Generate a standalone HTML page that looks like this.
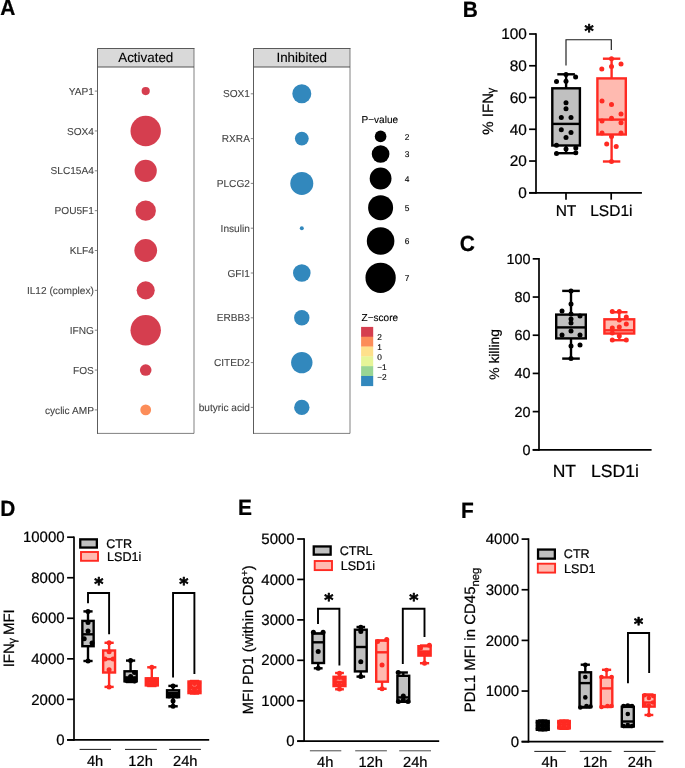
<!DOCTYPE html>
<html lang="en">
<head>
<meta charset="utf-8">
<title>Figure</title>
<style>
html,body{margin:0;padding:0;background:#fff;}
body{width:685px;height:768px;overflow:hidden;}
svg{display:block;font-family:"Liberation Sans", Arial, Helvetica, sans-serif;text-rendering:geometricPrecision;}
text{fill:#000;stroke:#000;stroke-width:0.22px;}
text.al{fill:#444;stroke:#444;stroke-width:0.1px;}
text.lg{stroke-width:0.12px;}
text.st{font-family:"DejaVu Sans","Liberation Sans",sans-serif;font-weight:bold;font-size:17.5px;text-anchor:middle;stroke-width:0.7px;stroke-linejoin:round;}
</style>
</head>
<body>
<svg width="685" height="768" viewBox="0 0 685 768">
<rect width="685" height="768" fill="#fff"/>
<text transform="translate(0.3 14.9) scale(0.95 1)" font-size="22.0" font-weight="bold">A</text>
<text transform="translate(462.7 16.8) scale(0.95 1)" font-size="22.0" font-weight="bold">B</text>
<text transform="translate(459.8 250.6) scale(0.95 1)" font-size="22.0" font-weight="bold">C</text>
<text transform="translate(0.3 516.3) scale(0.95 1)" font-size="22.0" font-weight="bold">D</text>
<text transform="translate(237.9 514.6) scale(0.95 1)" font-size="22.0" font-weight="bold">E</text>
<text transform="translate(461.1 518.0) scale(0.95 1)" font-size="22.0" font-weight="bold">F</text>
<rect x="97.5" y="48.5" width="96.5" height="18.5" fill="#d9d9d9"/>
<path d="M97.5 67.0H194.0" fill="none" stroke="#555" stroke-width="1.1"/>
<path d="M97.5 433.4V48.5H194.0" fill="none" stroke="#4a4a4a" stroke-width="0.9" stroke-linecap="square"/>
<path d="M194.0 48.5V433.4H97.5" fill="none" stroke="#4a4a4a" stroke-width="0.7"/>
<text x="145.75" y="62.1" font-size="13.4" text-anchor="middle" class="lg">Activated</text>
<line x1="94.8" y1="91.1" x2="97.1" y2="91.1" stroke="#777" stroke-width="0.9" stroke-linecap="butt"/>
<text x="93.9" y="94.7" font-size="10.15" text-anchor="end" class="al">YAP1</text>
<circle cx="145.7" cy="91.1" r="4.1" fill="#d53e4f"/>
<line x1="94.8" y1="130.95" x2="97.1" y2="130.95" stroke="#777" stroke-width="0.9" stroke-linecap="butt"/>
<text x="93.9" y="134.55" font-size="10.15" text-anchor="end" class="al">SOX4</text>
<circle cx="145.7" cy="130.95" r="15.2" fill="#d53e4f"/>
<line x1="94.8" y1="170.8" x2="97.1" y2="170.8" stroke="#777" stroke-width="0.9" stroke-linecap="butt"/>
<text x="93.9" y="174.4" font-size="10.15" text-anchor="end" class="al">SLC15A4</text>
<circle cx="145.7" cy="170.8" r="11.1" fill="#d53e4f"/>
<line x1="94.8" y1="210.65" x2="97.1" y2="210.65" stroke="#777" stroke-width="0.9" stroke-linecap="butt"/>
<text x="93.9" y="214.25" font-size="10.15" text-anchor="end" class="al">POU5F1</text>
<circle cx="145.7" cy="210.65" r="10.2" fill="#d53e4f"/>
<line x1="94.8" y1="250.5" x2="97.1" y2="250.5" stroke="#777" stroke-width="0.9" stroke-linecap="butt"/>
<text x="93.9" y="254.1" font-size="10.15" text-anchor="end" class="al">KLF4</text>
<circle cx="145.7" cy="250.5" r="11.4" fill="#d53e4f"/>
<line x1="94.8" y1="290.35" x2="97.1" y2="290.35" stroke="#777" stroke-width="0.9" stroke-linecap="butt"/>
<text x="93.9" y="293.95" font-size="10.15" text-anchor="end" class="al">IL12 (complex)</text>
<circle cx="145.7" cy="290.35" r="9.05" fill="#d53e4f"/>
<line x1="94.8" y1="330.2" x2="97.1" y2="330.2" stroke="#777" stroke-width="0.9" stroke-linecap="butt"/>
<text x="93.9" y="333.8" font-size="10.15" text-anchor="end" class="al">IFNG</text>
<circle cx="145.7" cy="330.2" r="15.2" fill="#d53e4f"/>
<line x1="94.8" y1="370.05" x2="97.1" y2="370.05" stroke="#777" stroke-width="0.9" stroke-linecap="butt"/>
<text x="93.9" y="373.65" font-size="10.15" text-anchor="end" class="al">FOS</text>
<circle cx="145.7" cy="370.05" r="5.8" fill="#d53e4f"/>
<line x1="94.8" y1="409.9" x2="97.1" y2="409.9" stroke="#777" stroke-width="0.9" stroke-linecap="butt"/>
<text x="93.9" y="413.5" font-size="10.15" text-anchor="end" class="al">cyclic AMP</text>
<circle cx="145.7" cy="409.9" r="5.4" fill="#fc8d59"/>
<rect x="253.5" y="48.5" width="96.5" height="18.5" fill="#d9d9d9"/>
<path d="M253.5 67.0H350.0" fill="none" stroke="#555" stroke-width="1.1"/>
<path d="M253.5 433.4V48.5H350.0" fill="none" stroke="#4a4a4a" stroke-width="0.9" stroke-linecap="square"/>
<path d="M350.0 48.5V433.4H253.5" fill="none" stroke="#4a4a4a" stroke-width="0.7"/>
<text x="301.75" y="62.1" font-size="13.4" text-anchor="middle" class="lg">Inhibited</text>
<line x1="250.8" y1="93.8" x2="253.1" y2="93.8" stroke="#777" stroke-width="0.9" stroke-linecap="butt"/>
<text x="249.9" y="97.4" font-size="10.15" text-anchor="end" class="al">SOX1</text>
<circle cx="301.8" cy="93.8" r="9.5" fill="#3288bd"/>
<line x1="250.8" y1="138.6" x2="253.1" y2="138.6" stroke="#777" stroke-width="0.9" stroke-linecap="butt"/>
<text x="249.9" y="142.2" font-size="10.15" text-anchor="end" class="al">RXRA</text>
<circle cx="301.8" cy="138.6" r="6.9" fill="#3288bd"/>
<line x1="250.8" y1="183.4" x2="253.1" y2="183.4" stroke="#777" stroke-width="0.9" stroke-linecap="butt"/>
<text x="249.9" y="187" font-size="10.15" text-anchor="end" class="al">PLCG2</text>
<circle cx="301.8" cy="183.4" r="11.5" fill="#3288bd"/>
<line x1="250.8" y1="228.2" x2="253.1" y2="228.2" stroke="#777" stroke-width="0.9" stroke-linecap="butt"/>
<text x="249.9" y="231.8" font-size="10.15" text-anchor="end" class="al">Insulin</text>
<circle cx="301.8" cy="228.2" r="2.0" fill="#3288bd"/>
<line x1="250.8" y1="273.0" x2="253.1" y2="273.0" stroke="#777" stroke-width="0.9" stroke-linecap="butt"/>
<text x="249.9" y="276.6" font-size="10.15" text-anchor="end" class="al">GFI1</text>
<circle cx="301.8" cy="273.0" r="8.8" fill="#3288bd"/>
<line x1="250.8" y1="317.8" x2="253.1" y2="317.8" stroke="#777" stroke-width="0.9" stroke-linecap="butt"/>
<text x="249.9" y="321.4" font-size="10.15" text-anchor="end" class="al">ERBB3</text>
<circle cx="301.8" cy="317.8" r="7.7" fill="#3288bd"/>
<line x1="250.8" y1="362.6" x2="253.1" y2="362.6" stroke="#777" stroke-width="0.9" stroke-linecap="butt"/>
<text x="249.9" y="366.2" font-size="10.15" text-anchor="end" class="al">CITED2</text>
<circle cx="301.8" cy="362.6" r="10.7" fill="#3288bd"/>
<line x1="250.8" y1="407.4" x2="253.1" y2="407.4" stroke="#777" stroke-width="0.9" stroke-linecap="butt"/>
<text x="249.9" y="411.0" font-size="10.15" text-anchor="end" class="al">butyric acid</text>
<circle cx="301.8" cy="407.4" r="7.7" fill="#3288bd"/>
<text x="361.5" y="123.4" font-size="10.05" class="lg">P−value</text>
<circle cx="380.6" cy="136.4" r="5.8" fill="#000"/>
<text x="404.8" y="139.6" font-size="8.4" class="lg">2</text>
<circle cx="380.6" cy="154.0" r="8.85" fill="#000"/>
<text x="404.8" y="157.2" font-size="8.4" class="lg">3</text>
<circle cx="380.6" cy="178.5" r="10.9" fill="#000"/>
<text x="404.8" y="181.7" font-size="8.4" class="lg">4</text>
<circle cx="380.6" cy="207.7" r="12.5" fill="#000"/>
<text x="404.8" y="210.9" font-size="8.4" class="lg">5</text>
<circle cx="380.6" cy="241.0" r="13.8" fill="#000"/>
<text x="404.8" y="244.2" font-size="8.4" class="lg">6</text>
<circle cx="380.6" cy="277.8" r="15.15" fill="#000"/>
<text x="404.8" y="281.0" font-size="8.4" class="lg">7</text>
<text x="361.5" y="321.2" font-size="10.05" class="lg">Z−score</text>
<rect x="361.1" y="326.90" width="12.1" height="10.12" fill="#d53e4f"/>
<rect x="361.1" y="336.72" width="12.1" height="10.12" fill="#fc8d59"/>
<rect x="361.1" y="346.53" width="12.1" height="10.12" fill="#fee08b"/>
<rect x="361.1" y="356.35" width="12.1" height="10.12" fill="#e6f598"/>
<rect x="361.1" y="366.17" width="12.1" height="10.12" fill="#99d594"/>
<rect x="361.1" y="375.98" width="12.1" height="10.12" fill="#3288bd"/>
<text x="377.2" y="340.1" font-size="8.3" class="lg">2</text>
<text x="377.2" y="349.95" font-size="8.3" class="lg">1</text>
<text x="377.2" y="359.8" font-size="8.3" class="lg">0</text>
<text x="377.2" y="369.65" font-size="8.3" class="lg">−1</text>
<text x="377.2" y="379.5" font-size="8.3" class="lg">−2</text>
<line x1="536.0" y1="33.15" x2="536.0" y2="193.65" stroke="#000" stroke-width="1.7" stroke-linecap="butt"/>
<line x1="529.1" y1="34.0" x2="536.0" y2="34.0" stroke="#000" stroke-width="1.7" stroke-linecap="butt"/>
<text x="526.9" y="39.31" font-size="15.4" text-anchor="end">100</text>
<line x1="529.1" y1="65.76" x2="536.0" y2="65.76" stroke="#000" stroke-width="1.7" stroke-linecap="butt"/>
<text x="526.9" y="71.07" font-size="15.4" text-anchor="end">80</text>
<line x1="529.1" y1="97.52" x2="536.0" y2="97.52" stroke="#000" stroke-width="1.7" stroke-linecap="butt"/>
<text x="526.9" y="102.83" font-size="15.4" text-anchor="end">60</text>
<line x1="529.1" y1="129.28" x2="536.0" y2="129.28" stroke="#000" stroke-width="1.7" stroke-linecap="butt"/>
<text x="526.9" y="134.59" font-size="15.4" text-anchor="end">40</text>
<line x1="529.1" y1="161.04" x2="536.0" y2="161.04" stroke="#000" stroke-width="1.7" stroke-linecap="butt"/>
<text x="526.9" y="166.35" font-size="15.4" text-anchor="end">20</text>
<line x1="529.1" y1="192.8" x2="536.0" y2="192.8" stroke="#000" stroke-width="1.7" stroke-linecap="butt"/>
<text x="526.9" y="198.11" font-size="15.4" text-anchor="end">0</text>
<line x1="529.1" y1="192.8" x2="641.9" y2="192.8" stroke="#000" stroke-width="1.7" stroke-linecap="butt"/>
<line x1="566.0" y1="192.8" x2="566.0" y2="199.7" stroke="#000" stroke-width="1.7" stroke-linecap="butt"/>
<line x1="611.2" y1="192.8" x2="611.2" y2="199.7" stroke="#000" stroke-width="1.7" stroke-linecap="butt"/>
<text x="566.0" y="216.2" font-size="15.5" text-anchor="middle">NT</text>
<text x="611.35" y="216.2" font-size="15.5" text-anchor="middle">LSD1i</text>
<text transform="translate(493.3 111.2) rotate(-90)" font-size="15.0" text-anchor="middle">% IFN<tspan font-size="11.5" dy="1.8" dx="-0.5">γ</tspan></text>
<line x1="566.1" y1="74.3" x2="566.1" y2="88.3" stroke="#000" stroke-width="2.4" stroke-linecap="butt"/>
<line x1="566.1" y1="145.5" x2="566.1" y2="153.2" stroke="#000" stroke-width="2.4" stroke-linecap="butt"/>
<line x1="557.3" y1="74.3" x2="574.9" y2="74.3" stroke="#000" stroke-width="2.4" stroke-linecap="butt"/>
<line x1="557.3" y1="153.2" x2="574.9" y2="153.2" stroke="#000" stroke-width="2.4" stroke-linecap="butt"/>
<rect x="552.3" y="88.3" width="27.6" height="57.2" fill="#c0c0c0" stroke="#000" stroke-width="2.4"/>
<line x1="552.3" y1="123.9" x2="579.9" y2="123.9" stroke="#000" stroke-width="2.4" stroke-linecap="butt"/>
<circle cx="556.5" cy="81.5" r="2.5" fill="#000"/>
<circle cx="566" cy="74.4" r="2.5" fill="#000"/>
<circle cx="575.6" cy="77" r="2.5" fill="#000"/>
<circle cx="566" cy="81.3" r="2.5" fill="#000"/>
<circle cx="566" cy="102.8" r="2.5" fill="#000"/>
<circle cx="566" cy="108.7" r="2.5" fill="#000"/>
<circle cx="561.3" cy="117.4" r="2.5" fill="#000"/>
<circle cx="571" cy="117.4" r="2.5" fill="#000"/>
<circle cx="561.3" cy="129.7" r="2.5" fill="#000"/>
<circle cx="571" cy="132.6" r="2.5" fill="#000"/>
<circle cx="566" cy="137.6" r="2.5" fill="#000"/>
<circle cx="556.5" cy="145.2" r="2.5" fill="#000"/>
<circle cx="566" cy="149.1" r="2.5" fill="#000"/>
<circle cx="575.8" cy="148.1" r="2.5" fill="#000"/>
<circle cx="556.5" cy="153.5" r="2.5" fill="#000"/>
<circle cx="575.8" cy="152.8" r="2.5" fill="#000"/>
<line x1="611.6" y1="58.7" x2="611.6" y2="78.4" stroke="#ff2a22" stroke-width="2.4" stroke-linecap="butt"/>
<line x1="611.6" y1="134.5" x2="611.6" y2="161.5" stroke="#ff2a22" stroke-width="2.4" stroke-linecap="butt"/>
<line x1="602.9" y1="58.7" x2="620.3" y2="58.7" stroke="#ff2a22" stroke-width="2.4" stroke-linecap="butt"/>
<line x1="602.9" y1="161.5" x2="620.3" y2="161.5" stroke="#ff2a22" stroke-width="2.4" stroke-linecap="butt"/>
<rect x="597.4" y="78.4" width="28.4" height="56.1" fill="#ffbab0" stroke="#ff2a22" stroke-width="2.4"/>
<line x1="597.4" y1="119.6" x2="625.8" y2="119.6" stroke="#ff2a22" stroke-width="2.4" stroke-linecap="butt"/>
<circle cx="611.5" cy="58.7" r="2.5" fill="#ff2a22"/>
<circle cx="601.8" cy="69" r="2.5" fill="#ff2a22"/>
<circle cx="611.5" cy="66.4" r="2.5" fill="#ff2a22"/>
<circle cx="621" cy="64.1" r="2.5" fill="#ff2a22"/>
<circle cx="602" cy="101.1" r="2.5" fill="#ff2a22"/>
<circle cx="611.5" cy="104.6" r="2.5" fill="#ff2a22"/>
<circle cx="621" cy="114.1" r="2.5" fill="#ff2a22"/>
<circle cx="611.5" cy="118.2" r="2.5" fill="#ff2a22"/>
<circle cx="602" cy="121" r="2.5" fill="#ff2a22"/>
<circle cx="621" cy="122.8" r="2.5" fill="#ff2a22"/>
<circle cx="602" cy="133.1" r="2.5" fill="#ff2a22"/>
<circle cx="621" cy="133.1" r="2.5" fill="#ff2a22"/>
<circle cx="611.5" cy="136.4" r="2.5" fill="#ff2a22"/>
<circle cx="606.7" cy="144" r="2.5" fill="#ff2a22"/>
<circle cx="616.2" cy="146.6" r="2.5" fill="#ff2a22"/>
<circle cx="611.5" cy="161.5" r="2.5" fill="#ff2a22"/>
<path d="M566 65.5 V39.7 H611.3 V49.9" fill="none" stroke="#1a1a1a" stroke-width="1.15"/>
<text x="589.0" y="37.3" class="st">*</text>
<line x1="539.0" y1="258.0" x2="539.0" y2="450.65" stroke="#000" stroke-width="1.7" stroke-linecap="butt"/>
<line x1="532.7" y1="258.85" x2="539.0" y2="258.85" stroke="#000" stroke-width="1.7" stroke-linecap="butt"/>
<text x="530.6" y="263.82" font-size="14.4" text-anchor="end">100</text>
<line x1="532.7" y1="297.04" x2="539.0" y2="297.04" stroke="#000" stroke-width="1.7" stroke-linecap="butt"/>
<text x="530.6" y="302.01" font-size="14.4" text-anchor="end">80</text>
<line x1="532.7" y1="335.23" x2="539.0" y2="335.23" stroke="#000" stroke-width="1.7" stroke-linecap="butt"/>
<text x="530.6" y="340.2" font-size="14.4" text-anchor="end">60</text>
<line x1="532.7" y1="373.42" x2="539.0" y2="373.42" stroke="#000" stroke-width="1.7" stroke-linecap="butt"/>
<text x="530.6" y="378.39" font-size="14.4" text-anchor="end">40</text>
<line x1="532.7" y1="411.61" x2="539.0" y2="411.61" stroke="#000" stroke-width="1.7" stroke-linecap="butt"/>
<text x="530.6" y="416.58" font-size="14.4" text-anchor="end">20</text>
<line x1="532.7" y1="449.8" x2="539.0" y2="449.8" stroke="#000" stroke-width="1.7" stroke-linecap="butt"/>
<text x="530.6" y="454.77" font-size="14.4" text-anchor="end">0</text>
<line x1="532.7" y1="449.8" x2="651.6" y2="449.8" stroke="#000" stroke-width="1.7" stroke-linecap="butt"/>
<text x="564.3" y="477.3" font-size="17.5" text-anchor="middle">NT</text>
<text x="615.05" y="477.3" font-size="17.6" text-anchor="middle">LSD1i</text>
<text transform="translate(499.1 354.4) rotate(-90)" font-size="13.8" text-anchor="middle">% killing</text>
<line x1="571.0" y1="290.9" x2="571.0" y2="314.6" stroke="#000" stroke-width="2.4" stroke-linecap="butt"/>
<line x1="571.0" y1="338.4" x2="571.0" y2="358.6" stroke="#000" stroke-width="2.4" stroke-linecap="butt"/>
<line x1="562.2" y1="290.9" x2="579.8" y2="290.9" stroke="#000" stroke-width="2.4" stroke-linecap="butt"/>
<line x1="562.2" y1="358.6" x2="579.8" y2="358.6" stroke="#000" stroke-width="2.4" stroke-linecap="butt"/>
<rect x="556.2" y="314.6" width="29.6" height="23.8" fill="#c0c0c0" stroke="#000" stroke-width="2.4"/>
<line x1="556.2" y1="327.4" x2="585.8" y2="327.4" stroke="#000" stroke-width="2.4" stroke-linecap="butt"/>
<circle cx="571.0" cy="290.9" r="2.5" fill="#000"/>
<circle cx="571.0" cy="304" r="2.5" fill="#000"/>
<circle cx="562.0" cy="311" r="2.5" fill="#000"/>
<circle cx="571.0" cy="314" r="2.5" fill="#000"/>
<circle cx="580.0" cy="316" r="2.5" fill="#000"/>
<circle cx="571.0" cy="319" r="2.5" fill="#000"/>
<circle cx="571.0" cy="323" r="2.5" fill="#000"/>
<circle cx="571.0" cy="331" r="2.5" fill="#000"/>
<circle cx="562.0" cy="335" r="2.5" fill="#000"/>
<circle cx="580.0" cy="335" r="2.5" fill="#000"/>
<circle cx="571.0" cy="346" r="2.5" fill="#000"/>
<circle cx="580.0" cy="345" r="2.5" fill="#000"/>
<circle cx="571.0" cy="358.6" r="2.5" fill="#000"/>
<line x1="619.3" y1="312.2" x2="619.3" y2="319.3" stroke="#ff2a22" stroke-width="2.4" stroke-linecap="butt"/>
<line x1="619.3" y1="333.5" x2="619.3" y2="340.2" stroke="#ff2a22" stroke-width="2.4" stroke-linecap="butt"/>
<line x1="611.1" y1="312.2" x2="627.5" y2="312.2" stroke="#ff2a22" stroke-width="2.4" stroke-linecap="butt"/>
<line x1="611.1" y1="340.2" x2="627.5" y2="340.2" stroke="#ff2a22" stroke-width="2.4" stroke-linecap="butt"/>
<rect x="604.4" y="319.3" width="29.8" height="14.2" fill="#ffbab0" stroke="#ff2a22" stroke-width="2.4"/>
<line x1="604.4" y1="330.3" x2="634.2" y2="330.3" stroke="#ff2a22" stroke-width="2.4" stroke-linecap="butt"/>
<circle cx="612.3" cy="311.6" r="2.5" fill="#ff2a22"/>
<circle cx="619.3" cy="311.6" r="2.5" fill="#ff2a22"/>
<circle cx="626.3" cy="317" r="2.5" fill="#ff2a22"/>
<circle cx="619.3" cy="320" r="2.5" fill="#ff2a22"/>
<circle cx="626.3" cy="324" r="2.5" fill="#ff2a22"/>
<circle cx="612.3" cy="328" r="2.5" fill="#ff2a22"/>
<circle cx="619.3" cy="327" r="2.5" fill="#ff2a22"/>
<circle cx="612.3" cy="333" r="2.5" fill="#ff2a22"/>
<circle cx="619.3" cy="336" r="2.5" fill="#ff2a22"/>
<circle cx="612.3" cy="340" r="2.5" fill="#ff2a22"/>
<circle cx="626.3" cy="340" r="2.5" fill="#ff2a22"/>
<g>
<line x1="74.0" y1="536.4" x2="74.0" y2="740.75" stroke="#000" stroke-width="1.7" stroke-linecap="butt"/>
<line x1="67.1" y1="537.2" x2="74.0" y2="537.2" stroke="#000" stroke-width="1.7" stroke-linecap="butt"/>
<text x="64.6" y="542.38" font-size="15.0" text-anchor="end">10000</text>
<line x1="67.1" y1="577.74" x2="74.0" y2="577.74" stroke="#000" stroke-width="1.7" stroke-linecap="butt"/>
<text x="64.6" y="582.91" font-size="15.0" text-anchor="end">8000</text>
<line x1="67.1" y1="618.28" x2="74.0" y2="618.28" stroke="#000" stroke-width="1.7" stroke-linecap="butt"/>
<text x="64.6" y="623.46" font-size="15.0" text-anchor="end">6000</text>
<line x1="67.1" y1="658.82" x2="74.0" y2="658.82" stroke="#000" stroke-width="1.7" stroke-linecap="butt"/>
<text x="64.6" y="664" font-size="15.0" text-anchor="end">4000</text>
<line x1="67.1" y1="699.36" x2="74.0" y2="699.36" stroke="#000" stroke-width="1.7" stroke-linecap="butt"/>
<text x="64.6" y="704.53" font-size="15.0" text-anchor="end">2000</text>
<line x1="67.1" y1="739.9" x2="74.0" y2="739.9" stroke="#000" stroke-width="1.7" stroke-linecap="butt"/>
<text x="64.6" y="745.07" font-size="15.0" text-anchor="end">0</text>
<line x1="67.1" y1="739.9" x2="209.2" y2="739.9" stroke="#000" stroke-width="1.7" stroke-linecap="butt"/>
<line x1="79.6" y1="749.4" x2="111" y2="749.4" stroke="#1a1a1a" stroke-width="1.0" stroke-linecap="butt"/>
<text x="95.1" y="765.6" font-size="14.7" text-anchor="middle">4h</text>
<line x1="125" y1="749.4" x2="156.9" y2="749.4" stroke="#1a1a1a" stroke-width="1.0" stroke-linecap="butt"/>
<text x="140.6" y="765.6" font-size="14.7" text-anchor="middle">12h</text>
<line x1="169.2" y1="749.4" x2="200.9" y2="749.4" stroke="#1a1a1a" stroke-width="1.0" stroke-linecap="butt"/>
<text x="185.3" y="765.6" font-size="14.7" text-anchor="middle">24h</text>
<rect x="80.25" y="539.35" width="16.6" height="8.2" fill="#c0c0c0" stroke="#000" stroke-width="2.3"/>
<rect x="81.0" y="552.0" width="17.0" height="8.8" fill="#ffbab0" stroke="#ff2a22" stroke-width="1.9"/>
<text x="106.2" y="548.1" font-size="12.6">CTR</text>
<text x="107.0" y="561.0" font-size="12.6">LSD1i</text>
<text transform="translate(13.8 638.3) rotate(-90)" font-size="15.0" text-anchor="middle">IFN<tspan font-size="11.5" dy="1.8" dx="-0.5">γ</tspan><tspan dy="-1.8" dx="-1.3"> MFI</tspan></text>
<line x1="88.0" y1="611.4" x2="88.0" y2="620.9" stroke="#000" stroke-width="2.4" stroke-linecap="butt"/>
<line x1="88.0" y1="646.2" x2="88.0" y2="661.0" stroke="#000" stroke-width="2.4" stroke-linecap="butt"/>
<line x1="83.4" y1="611.4" x2="92.6" y2="611.4" stroke="#000" stroke-width="2.4" stroke-linecap="butt"/>
<line x1="83.4" y1="661.0" x2="92.6" y2="661.0" stroke="#000" stroke-width="2.4" stroke-linecap="butt"/>
<rect x="82.35" y="620.9" width="11.3" height="25.3" fill="#c0c0c0" stroke="#000" stroke-width="2.4"/>
<line x1="82.35" y1="634.3" x2="93.65" y2="634.3" stroke="#000" stroke-width="2.4" stroke-linecap="butt"/>
<circle cx="88" cy="611.4" r="2.5" fill="#000"/>
<circle cx="88" cy="622.6" r="2.5" fill="#000"/>
<circle cx="88" cy="631.1" r="2.5" fill="#000"/>
<circle cx="84.2" cy="638.7" r="2.5" fill="#000"/>
<circle cx="92" cy="643" r="2.5" fill="#000"/>
<circle cx="88" cy="661" r="2.5" fill="#000"/>
<line x1="109.1" y1="642.8" x2="109.1" y2="650.5" stroke="#ff2a22" stroke-width="2.4" stroke-linecap="butt"/>
<line x1="109.1" y1="672.5" x2="109.1" y2="686.9" stroke="#ff2a22" stroke-width="2.4" stroke-linecap="butt"/>
<line x1="104.5" y1="642.8" x2="113.7" y2="642.8" stroke="#ff2a22" stroke-width="2.4" stroke-linecap="butt"/>
<line x1="104.5" y1="686.9" x2="113.7" y2="686.9" stroke="#ff2a22" stroke-width="2.4" stroke-linecap="butt"/>
<rect x="103.15" y="650.5" width="11.9" height="22.0" fill="#ffbab0" stroke="#ff2a22" stroke-width="2.4"/>
<line x1="103.15" y1="659.1" x2="115.05" y2="659.1" stroke="#ff2a22" stroke-width="2.4" stroke-linecap="butt"/>
<circle cx="109.1" cy="642.8" r="2.5" fill="#ff2a22"/>
<circle cx="109.1" cy="651.8" r="2.5" fill="#ff2a22"/>
<circle cx="105" cy="659" r="2.5" fill="#ff2a22"/>
<circle cx="113.2" cy="659" r="2.5" fill="#ff2a22"/>
<circle cx="109.1" cy="669.8" r="2.5" fill="#ff2a22"/>
<circle cx="109.1" cy="686.9" r="2.5" fill="#ff2a22"/>
<line x1="130.6" y1="660.6" x2="130.6" y2="671.3" stroke="#000" stroke-width="2.4" stroke-linecap="butt"/>
<line x1="130.6" y1="681.3" x2="130.6" y2="682.0" stroke="#000" stroke-width="2.4" stroke-linecap="butt"/>
<line x1="126.0" y1="660.6" x2="135.2" y2="660.6" stroke="#000" stroke-width="2.4" stroke-linecap="butt"/>
<line x1="126.0" y1="682.0" x2="135.2" y2="682.0" stroke="#000" stroke-width="2.4" stroke-linecap="butt"/>
<rect x="124.5" y="671.3" width="12.2" height="10.0" fill="#c0c0c0" stroke="#000" stroke-width="2.4"/>
<line x1="124.5" y1="677.5" x2="136.7" y2="677.5" stroke="#000" stroke-width="2.4" stroke-linecap="butt"/>
<circle cx="130.6" cy="660.6" r="2.5" fill="#000"/>
<circle cx="126.5" cy="679" r="2.5" fill="#000"/>
<circle cx="134.7" cy="679" r="2.5" fill="#000"/>
<circle cx="130.6" cy="680" r="2.5" fill="#000"/>
<circle cx="126.5" cy="680.5" r="2.5" fill="#000"/>
<circle cx="134.7" cy="681" r="2.5" fill="#000"/>
<circle cx="130.6" cy="676.5" r="2.5" fill="#000"/>
<circle cx="134.5" cy="672.5" r="2.5" fill="#000"/>
<line x1="151.8" y1="667.3" x2="151.8" y2="678.3" stroke="#ff2a22" stroke-width="2.4" stroke-linecap="butt"/>
<line x1="151.8" y1="685.4" x2="151.8" y2="686.0" stroke="#ff2a22" stroke-width="2.4" stroke-linecap="butt"/>
<line x1="147.2" y1="667.3" x2="156.4" y2="667.3" stroke="#ff2a22" stroke-width="2.4" stroke-linecap="butt"/>
<line x1="147.2" y1="686.0" x2="156.4" y2="686.0" stroke="#ff2a22" stroke-width="2.4" stroke-linecap="butt"/>
<rect x="145.8" y="678.3" width="12.0" height="7.1" fill="#ffbab0" stroke="#ff2a22" stroke-width="2.4"/>
<line x1="145.8" y1="681.5" x2="157.8" y2="681.5" stroke="#ff2a22" stroke-width="2.4" stroke-linecap="butt"/>
<circle cx="151.8" cy="667.3" r="2.5" fill="#ff2a22"/>
<circle cx="147.7" cy="680" r="2.5" fill="#ff2a22"/>
<circle cx="155.9" cy="680" r="2.5" fill="#ff2a22"/>
<circle cx="151.8" cy="683.5" r="2.5" fill="#ff2a22"/>
<circle cx="147.7" cy="684" r="2.5" fill="#ff2a22"/>
<circle cx="155.9" cy="684" r="2.5" fill="#ff2a22"/>
<circle cx="151.8" cy="679.5" r="2.5" fill="#ff2a22"/>
<line x1="173.05" y1="685.9" x2="173.05" y2="690.3" stroke="#000" stroke-width="2.4" stroke-linecap="butt"/>
<line x1="173.05" y1="697.2" x2="173.05" y2="706.3" stroke="#000" stroke-width="2.4" stroke-linecap="butt"/>
<line x1="168.35" y1="685.9" x2="177.75" y2="685.9" stroke="#000" stroke-width="2.4" stroke-linecap="butt"/>
<line x1="168.35" y1="706.3" x2="177.75" y2="706.3" stroke="#000" stroke-width="2.4" stroke-linecap="butt"/>
<rect x="167.05" y="690.3" width="12.0" height="6.9" fill="#c0c0c0" stroke="#000" stroke-width="2.4"/>
<line x1="167.05" y1="693.0" x2="179.05" y2="693.0" stroke="#000" stroke-width="2.4" stroke-linecap="butt"/>
<circle cx="173.05" cy="685.9" r="2.5" fill="#000"/>
<circle cx="169" cy="694.5" r="2.5" fill="#000"/>
<circle cx="177.1" cy="694.5" r="2.5" fill="#000"/>
<circle cx="173.05" cy="696" r="2.5" fill="#000"/>
<circle cx="169" cy="696" r="2.5" fill="#000"/>
<circle cx="177.1" cy="696" r="2.5" fill="#000"/>
<circle cx="173.05" cy="701" r="2.5" fill="#000"/>
<circle cx="173.05" cy="706.3" r="2.5" fill="#000"/>
<line x1="194.5" y1="681.0" x2="194.5" y2="681.5" stroke="#ff2a22" stroke-width="2.4" stroke-linecap="butt"/>
<line x1="194.5" y1="693.1" x2="194.5" y2="693.5" stroke="#ff2a22" stroke-width="2.4" stroke-linecap="butt"/>
<line x1="189.9" y1="681.0" x2="199.1" y2="681.0" stroke="#ff2a22" stroke-width="2.4" stroke-linecap="butt"/>
<line x1="189.9" y1="693.5" x2="199.1" y2="693.5" stroke="#ff2a22" stroke-width="2.4" stroke-linecap="butt"/>
<rect x="188.5" y="681.5" width="12.0" height="11.6" fill="#ffbab0" stroke="#ff2a22" stroke-width="2.4"/>
<line x1="188.5" y1="687.5" x2="200.5" y2="687.5" stroke="#ff2a22" stroke-width="2.4" stroke-linecap="butt"/>
<circle cx="190.3" cy="683" r="2.5" fill="#ff2a22"/>
<circle cx="198.7" cy="683" r="2.5" fill="#ff2a22"/>
<circle cx="194.5" cy="683.5" r="2.5" fill="#ff2a22"/>
<circle cx="190.3" cy="691.5" r="2.5" fill="#ff2a22"/>
<circle cx="198.7" cy="691.5" r="2.5" fill="#ff2a22"/>
<circle cx="194.5" cy="692" r="2.5" fill="#ff2a22"/>
<circle cx="190.5" cy="687" r="2.5" fill="#ff2a22"/>
<circle cx="198.5" cy="687" r="2.5" fill="#ff2a22"/>
<circle cx="194.5" cy="689.5" r="2.5" fill="#ff2a22"/>
<path d="M88.0 603.2 V592.95 H109.1 V634.3" fill="none" stroke="#000" stroke-width="1.9"/>
<text x="98.8" y="590.2" class="st">*</text>
<path d="M173.05 677.6 V592.95 H194.4 V673.9" fill="none" stroke="#000" stroke-width="1.9"/>
<text x="183.9" y="590.2" class="st">*</text>
</g>
<g>
<line x1="304.1" y1="538.2" x2="304.1" y2="742.05" stroke="#000" stroke-width="1.7" stroke-linecap="butt"/>
<line x1="297.2" y1="539.0" x2="304.1" y2="539.0" stroke="#000" stroke-width="1.7" stroke-linecap="butt"/>
<text x="294.7" y="544.17" font-size="15.0" text-anchor="end">5000</text>
<line x1="297.2" y1="579.44" x2="304.1" y2="579.44" stroke="#000" stroke-width="1.7" stroke-linecap="butt"/>
<text x="294.7" y="584.62" font-size="15.0" text-anchor="end">4000</text>
<line x1="297.2" y1="619.88" x2="304.1" y2="619.88" stroke="#000" stroke-width="1.7" stroke-linecap="butt"/>
<text x="294.7" y="625.05" font-size="15.0" text-anchor="end">3000</text>
<line x1="297.2" y1="660.32" x2="304.1" y2="660.32" stroke="#000" stroke-width="1.7" stroke-linecap="butt"/>
<text x="294.7" y="665.49" font-size="15.0" text-anchor="end">2000</text>
<line x1="297.2" y1="700.76" x2="304.1" y2="700.76" stroke="#000" stroke-width="1.7" stroke-linecap="butt"/>
<text x="294.7" y="705.93" font-size="15.0" text-anchor="end">1000</text>
<line x1="297.2" y1="741.2" x2="304.1" y2="741.2" stroke="#000" stroke-width="1.7" stroke-linecap="butt"/>
<text x="294.7" y="746.38" font-size="15.0" text-anchor="end">0</text>
<line x1="297.2" y1="741.2" x2="439.2" y2="741.2" stroke="#000" stroke-width="1.7" stroke-linecap="butt"/>
<line x1="309.9" y1="750.8" x2="341.3" y2="750.8" stroke="#4a4a4a" stroke-width="1.0" stroke-linecap="butt"/>
<text x="325.2" y="766.5" font-size="14.7" text-anchor="middle">4h</text>
<line x1="355.2" y1="750.8" x2="386.9" y2="750.8" stroke="#4a4a4a" stroke-width="1.0" stroke-linecap="butt"/>
<text x="370.7" y="766.5" font-size="14.7" text-anchor="middle">12h</text>
<line x1="399.2" y1="750.8" x2="431" y2="750.8" stroke="#4a4a4a" stroke-width="1.0" stroke-linecap="butt"/>
<text x="415.3" y="766.5" font-size="14.7" text-anchor="middle">24h</text>
<rect x="313.75" y="546.45" width="16.9" height="8.2" fill="#c0c0c0" stroke="#000" stroke-width="2.3"/>
<rect x="314.7" y="561.0" width="17.3" height="9.1" fill="#ffbab0" stroke="#ff2a22" stroke-width="1.9"/>
<text x="339.7" y="554.6" font-size="12.6">CTRL</text>
<text x="340.7" y="570.0" font-size="12.6">LSD1i</text>
<text transform="translate(253.2 639.8) rotate(-90)" font-size="14.7" text-anchor="middle">MFI PD1 (within CD8<tspan font-size="10.5" dy="-5.5">+</tspan><tspan dy="5.5">)</tspan></text>
<line x1="318.2" y1="633.6" x2="318.2" y2="633.6" stroke="#000" stroke-width="2.4" stroke-linecap="butt"/>
<line x1="318.2" y1="663.0" x2="318.2" y2="668.3" stroke="#000" stroke-width="2.4" stroke-linecap="butt"/>
<line x1="313.8" y1="633.6" x2="322.6" y2="633.6" stroke="#000" stroke-width="2.4" stroke-linecap="butt"/>
<line x1="313.8" y1="668.3" x2="322.6" y2="668.3" stroke="#000" stroke-width="2.4" stroke-linecap="butt"/>
<rect x="312.4" y="633.6" width="11.6" height="29.4" fill="#c0c0c0" stroke="#000" stroke-width="2.4"/>
<line x1="312.4" y1="642.3" x2="324.0" y2="642.3" stroke="#000" stroke-width="2.4" stroke-linecap="butt"/>
<circle cx="313.4" cy="632.3" r="2.5" fill="#000"/>
<circle cx="323.1" cy="632.3" r="2.5" fill="#000"/>
<circle cx="318.2" cy="651.5" r="2.5" fill="#000"/>
<circle cx="318.2" cy="668.3" r="2.5" fill="#000"/>
<line x1="339.5" y1="673.0" x2="339.5" y2="676.8" stroke="#ff2a22" stroke-width="2.4" stroke-linecap="butt"/>
<line x1="339.5" y1="686.1" x2="339.5" y2="689.3" stroke="#ff2a22" stroke-width="2.4" stroke-linecap="butt"/>
<line x1="335.1" y1="673.0" x2="343.9" y2="673.0" stroke="#ff2a22" stroke-width="2.4" stroke-linecap="butt"/>
<line x1="335.1" y1="689.3" x2="343.9" y2="689.3" stroke="#ff2a22" stroke-width="2.4" stroke-linecap="butt"/>
<rect x="333.55" y="676.8" width="11.9" height="9.3" fill="#ffbab0" stroke="#ff2a22" stroke-width="2.4"/>
<line x1="333.55" y1="681.8" x2="345.45" y2="681.8" stroke="#ff2a22" stroke-width="2.4" stroke-linecap="butt"/>
<circle cx="339.5" cy="673.2" r="2.5" fill="#ff2a22"/>
<circle cx="335.4" cy="678.5" r="2.5" fill="#ff2a22"/>
<circle cx="343.6" cy="678.5" r="2.5" fill="#ff2a22"/>
<circle cx="339.5" cy="677.5" r="2.5" fill="#ff2a22"/>
<circle cx="335.4" cy="684.5" r="2.5" fill="#ff2a22"/>
<circle cx="343.6" cy="684.5" r="2.5" fill="#ff2a22"/>
<circle cx="339.5" cy="685" r="2.5" fill="#ff2a22"/>
<circle cx="339.5" cy="689.1" r="2.5" fill="#ff2a22"/>
<line x1="360.8" y1="627.0" x2="360.8" y2="629.7" stroke="#000" stroke-width="2.4" stroke-linecap="butt"/>
<line x1="360.8" y1="671.4" x2="360.8" y2="676.6" stroke="#000" stroke-width="2.4" stroke-linecap="butt"/>
<line x1="356.5" y1="627.0" x2="365.1" y2="627.0" stroke="#000" stroke-width="2.4" stroke-linecap="butt"/>
<line x1="356.5" y1="676.6" x2="365.1" y2="676.6" stroke="#000" stroke-width="2.4" stroke-linecap="butt"/>
<rect x="354.9" y="629.7" width="11.8" height="41.7" fill="#c0c0c0" stroke="#000" stroke-width="2.4"/>
<line x1="354.9" y1="647.0" x2="366.7" y2="647.0" stroke="#000" stroke-width="2.4" stroke-linecap="butt"/>
<circle cx="360.8" cy="627.2" r="2.5" fill="#000"/>
<circle cx="360.8" cy="631.4" r="2.5" fill="#000"/>
<circle cx="360.8" cy="661.8" r="2.5" fill="#000"/>
<circle cx="360.8" cy="676.6" r="2.5" fill="#000"/>
<line x1="382.05" y1="640.6" x2="382.05" y2="640.6" stroke="#ff2a22" stroke-width="2.4" stroke-linecap="butt"/>
<line x1="382.05" y1="681.7" x2="382.05" y2="688.8" stroke="#ff2a22" stroke-width="2.4" stroke-linecap="butt"/>
<line x1="377.45" y1="640.6" x2="386.65" y2="640.6" stroke="#ff2a22" stroke-width="2.4" stroke-linecap="butt"/>
<line x1="377.45" y1="688.8" x2="386.65" y2="688.8" stroke="#ff2a22" stroke-width="2.4" stroke-linecap="butt"/>
<rect x="376.2" y="640.6" width="11.7" height="41.1" fill="#ffbab0" stroke="#ff2a22" stroke-width="2.4"/>
<line x1="376.2" y1="652.3" x2="387.9" y2="652.3" stroke="#ff2a22" stroke-width="2.4" stroke-linecap="butt"/>
<circle cx="377.6" cy="641.4" r="2.5" fill="#ff2a22"/>
<circle cx="386.7" cy="639.6" r="2.5" fill="#ff2a22"/>
<circle cx="382.05" cy="665" r="2.5" fill="#ff2a22"/>
<circle cx="382.05" cy="688.8" r="2.5" fill="#ff2a22"/>
<line x1="403.3" y1="672.5" x2="403.3" y2="675.8" stroke="#000" stroke-width="2.4" stroke-linecap="butt"/>
<line x1="403.3" y1="701.8" x2="403.3" y2="701.8" stroke="#000" stroke-width="2.4" stroke-linecap="butt"/>
<line x1="398.7" y1="672.5" x2="407.9" y2="672.5" stroke="#000" stroke-width="2.4" stroke-linecap="butt"/>
<line x1="398.7" y1="701.8" x2="407.9" y2="701.8" stroke="#000" stroke-width="2.4" stroke-linecap="butt"/>
<rect x="397.4" y="675.8" width="11.8" height="26.0" fill="#c0c0c0" stroke="#000" stroke-width="2.4"/>
<line x1="397.4" y1="697.4" x2="409.2" y2="697.4" stroke="#000" stroke-width="2.4" stroke-linecap="butt"/>
<circle cx="398.2" cy="672.6" r="2.5" fill="#000"/>
<circle cx="398.4" cy="701.6" r="2.5" fill="#000"/>
<circle cx="408.0" cy="701.6" r="2.5" fill="#000"/>
<circle cx="403.3" cy="700" r="2.5" fill="#000"/>
<circle cx="403.3" cy="696" r="2.5" fill="#000"/>
<line x1="424.55" y1="645.5" x2="424.55" y2="646.2" stroke="#ff2a22" stroke-width="2.4" stroke-linecap="butt"/>
<line x1="424.55" y1="655.6" x2="424.55" y2="663.2" stroke="#ff2a22" stroke-width="2.4" stroke-linecap="butt"/>
<line x1="419.95" y1="645.5" x2="429.15" y2="645.5" stroke="#ff2a22" stroke-width="2.4" stroke-linecap="butt"/>
<line x1="419.95" y1="663.2" x2="429.15" y2="663.2" stroke="#ff2a22" stroke-width="2.4" stroke-linecap="butt"/>
<rect x="418.45" y="646.2" width="12.2" height="9.4" fill="#ffbab0" stroke="#ff2a22" stroke-width="2.4"/>
<line x1="418.45" y1="651.5" x2="430.65" y2="651.5" stroke="#ff2a22" stroke-width="2.4" stroke-linecap="butt"/>
<circle cx="429.4" cy="645.2" r="2.5" fill="#ff2a22"/>
<circle cx="420.5" cy="648" r="2.5" fill="#ff2a22"/>
<circle cx="424.55" cy="654" r="2.5" fill="#ff2a22"/>
<circle cx="428.6" cy="653.5" r="2.5" fill="#ff2a22"/>
<circle cx="420.5" cy="653.5" r="2.5" fill="#ff2a22"/>
<circle cx="424.55" cy="663.2" r="2.5" fill="#ff2a22"/>
<path d="M318.0 624.1 V608.7 H339.4 V665.4" fill="none" stroke="#000" stroke-width="1.9"/>
<text x="328.8" y="606.0" class="st">*</text>
<path d="M402.8 664.1 V608.7 H424.5 V637.0" fill="none" stroke="#000" stroke-width="1.9"/>
<text x="413.9" y="606.0" class="st">*</text>
</g>
<g>
<line x1="528.5" y1="538.3" x2="528.5" y2="742.55" stroke="#000" stroke-width="1.7" stroke-linecap="butt"/>
<line x1="521.6" y1="539.1" x2="528.5" y2="539.1" stroke="#000" stroke-width="1.7" stroke-linecap="butt"/>
<text x="519.1" y="544.27" font-size="15.0" text-anchor="end">4000</text>
<line x1="521.6" y1="589.75" x2="528.5" y2="589.75" stroke="#000" stroke-width="1.7" stroke-linecap="butt"/>
<text x="519.1" y="594.92" font-size="15.0" text-anchor="end">3000</text>
<line x1="521.6" y1="640.4" x2="528.5" y2="640.4" stroke="#000" stroke-width="1.7" stroke-linecap="butt"/>
<text x="519.1" y="645.57" font-size="15.0" text-anchor="end">2000</text>
<line x1="521.6" y1="691.05" x2="528.5" y2="691.05" stroke="#000" stroke-width="1.7" stroke-linecap="butt"/>
<text x="519.1" y="696.22" font-size="15.0" text-anchor="end">1000</text>
<line x1="521.6" y1="741.7" x2="528.5" y2="741.7" stroke="#000" stroke-width="1.7" stroke-linecap="butt"/>
<text x="519.1" y="746.88" font-size="15.0" text-anchor="end">0</text>
<line x1="521.6" y1="741.7" x2="663.4" y2="741.7" stroke="#000" stroke-width="1.7" stroke-linecap="butt"/>
<line x1="534.3" y1="751.4" x2="565.8" y2="751.4" stroke="#1a1a1a" stroke-width="1.0" stroke-linecap="butt"/>
<text x="549.7" y="767.1" font-size="14.7" text-anchor="middle">4h</text>
<line x1="579.7" y1="751.4" x2="611.5" y2="751.4" stroke="#1a1a1a" stroke-width="1.0" stroke-linecap="butt"/>
<text x="595.2" y="767.1" font-size="14.7" text-anchor="middle">12h</text>
<line x1="623.8" y1="751.4" x2="655.5" y2="751.4" stroke="#1a1a1a" stroke-width="1.0" stroke-linecap="butt"/>
<text x="639.9" y="767.1" font-size="14.7" text-anchor="middle">24h</text>
<rect x="538.05" y="549.55" width="16.8" height="9.1" fill="#c0c0c0" stroke="#000" stroke-width="2.3"/>
<rect x="537.8" y="563.7" width="17.3" height="8.9" fill="#ffbab0" stroke="#ff2a22" stroke-width="1.9"/>
<text x="563.8" y="558.4" font-size="12.6">CTR</text>
<text x="564.0" y="572.6" font-size="12.6">LSD1</text>
<text transform="translate(475.0 640.0) rotate(-90)" font-size="15.0" text-anchor="middle">PDL1 MFI in CD45<tspan font-size="11.3" dy="3.8">neg</tspan></text>
<line x1="542.75" y1="720.5" x2="542.75" y2="721.0" stroke="#000" stroke-width="2.4" stroke-linecap="butt"/>
<line x1="542.75" y1="729.8" x2="542.75" y2="730.3" stroke="#000" stroke-width="2.4" stroke-linecap="butt"/>
<line x1="538.15" y1="720.5" x2="547.35" y2="720.5" stroke="#000" stroke-width="2.4" stroke-linecap="butt"/>
<line x1="538.15" y1="730.3" x2="547.35" y2="730.3" stroke="#000" stroke-width="2.4" stroke-linecap="butt"/>
<rect x="536.85" y="721.0" width="11.8" height="8.8" fill="#c0c0c0" stroke="#000" stroke-width="2.4"/>
<line x1="536.85" y1="725.4" x2="548.65" y2="725.4" stroke="#000" stroke-width="2.4" stroke-linecap="butt"/>
<circle cx="538.3" cy="722.5" r="2.6" fill="#000"/>
<circle cx="547.2" cy="722.5" r="2.6" fill="#000"/>
<circle cx="542.75" cy="722" r="2.6" fill="#000"/>
<circle cx="538.3" cy="728.5" r="2.6" fill="#000"/>
<circle cx="547.2" cy="728.5" r="2.6" fill="#000"/>
<circle cx="542.75" cy="728.8" r="2.6" fill="#000"/>
<circle cx="538.5" cy="725.5" r="2.6" fill="#000"/>
<circle cx="547" cy="725.5" r="2.6" fill="#000"/>
<circle cx="542.75" cy="725.5" r="2.6" fill="#000"/>
<line x1="564.05" y1="720.5" x2="564.05" y2="721.0" stroke="#ff2a22" stroke-width="2.4" stroke-linecap="butt"/>
<line x1="564.05" y1="728.3" x2="564.05" y2="728.8" stroke="#ff2a22" stroke-width="2.4" stroke-linecap="butt"/>
<line x1="559.45" y1="720.5" x2="568.65" y2="720.5" stroke="#ff2a22" stroke-width="2.4" stroke-linecap="butt"/>
<line x1="559.45" y1="728.8" x2="568.65" y2="728.8" stroke="#ff2a22" stroke-width="2.4" stroke-linecap="butt"/>
<rect x="558.35" y="721.0" width="11.4" height="7.3" fill="#ffbab0" stroke="#ff2a22" stroke-width="2.4"/>
<line x1="558.35" y1="724.6" x2="569.75" y2="724.6" stroke="#ff2a22" stroke-width="2.4" stroke-linecap="butt"/>
<circle cx="559.6" cy="722.3" r="2.5" fill="#ff2a22"/>
<circle cx="568.5" cy="722.3" r="2.5" fill="#ff2a22"/>
<circle cx="564.05" cy="722" r="2.5" fill="#ff2a22"/>
<circle cx="559.6" cy="727.2" r="2.5" fill="#ff2a22"/>
<circle cx="568.5" cy="727.2" r="2.5" fill="#ff2a22"/>
<circle cx="564.05" cy="727.2" r="2.5" fill="#ff2a22"/>
<circle cx="564.05" cy="724.6" r="2.5" fill="#ff2a22"/>
<line x1="585.3" y1="664.7" x2="585.3" y2="672.3" stroke="#000" stroke-width="2.4" stroke-linecap="butt"/>
<line x1="585.3" y1="707.0" x2="585.3" y2="707.5" stroke="#000" stroke-width="2.4" stroke-linecap="butt"/>
<line x1="580.7" y1="664.7" x2="589.9" y2="664.7" stroke="#000" stroke-width="2.4" stroke-linecap="butt"/>
<line x1="580.7" y1="707.5" x2="589.9" y2="707.5" stroke="#000" stroke-width="2.4" stroke-linecap="butt"/>
<rect x="579.55" y="672.3" width="11.5" height="34.7" fill="#c0c0c0" stroke="#000" stroke-width="2.4"/>
<line x1="579.55" y1="683.1" x2="591.05" y2="683.1" stroke="#000" stroke-width="2.4" stroke-linecap="butt"/>
<circle cx="585.3" cy="664.9" r="2.3" fill="#000"/>
<circle cx="585.3" cy="677" r="2.3" fill="#000"/>
<circle cx="585.3" cy="697.4" r="2.3" fill="#000"/>
<circle cx="580.3" cy="707.5" r="2.3" fill="#000"/>
<circle cx="586.5" cy="706" r="2.3" fill="#000"/>
<circle cx="590.5" cy="706.5" r="2.3" fill="#000"/>
<line x1="606.55" y1="669.8" x2="606.55" y2="677.4" stroke="#ff2a22" stroke-width="2.4" stroke-linecap="butt"/>
<line x1="606.55" y1="706.6" x2="606.55" y2="707.0" stroke="#ff2a22" stroke-width="2.4" stroke-linecap="butt"/>
<line x1="601.95" y1="669.8" x2="611.15" y2="669.8" stroke="#ff2a22" stroke-width="2.4" stroke-linecap="butt"/>
<line x1="601.95" y1="707.0" x2="611.15" y2="707.0" stroke="#ff2a22" stroke-width="2.4" stroke-linecap="butt"/>
<rect x="600.8" y="677.4" width="11.5" height="29.2" fill="#ffbab0" stroke="#ff2a22" stroke-width="2.4"/>
<line x1="600.8" y1="688.4" x2="612.3" y2="688.4" stroke="#ff2a22" stroke-width="2.4" stroke-linecap="butt"/>
<circle cx="606.55" cy="670" r="2.3" fill="#ff2a22"/>
<circle cx="601.5" cy="677" r="2.3" fill="#ff2a22"/>
<circle cx="611.6" cy="677" r="2.3" fill="#ff2a22"/>
<circle cx="601.5" cy="707" r="2.3" fill="#ff2a22"/>
<circle cx="607.5" cy="706" r="2.3" fill="#ff2a22"/>
<circle cx="611.5" cy="706" r="2.3" fill="#ff2a22"/>
<line x1="627.8" y1="705.5" x2="627.8" y2="706.8" stroke="#000" stroke-width="2.4" stroke-linecap="butt"/>
<line x1="627.8" y1="726.5" x2="627.8" y2="727.0" stroke="#000" stroke-width="2.4" stroke-linecap="butt"/>
<line x1="623.2" y1="705.5" x2="632.4" y2="705.5" stroke="#000" stroke-width="2.4" stroke-linecap="butt"/>
<line x1="623.2" y1="727.0" x2="632.4" y2="727.0" stroke="#000" stroke-width="2.4" stroke-linecap="butt"/>
<rect x="621.8" y="706.8" width="12.0" height="19.7" fill="#c0c0c0" stroke="#000" stroke-width="2.4"/>
<line x1="621.8" y1="721.5" x2="633.8" y2="721.5" stroke="#000" stroke-width="2.4" stroke-linecap="butt"/>
<circle cx="623.5" cy="706" r="2.3" fill="#000"/>
<circle cx="632" cy="706" r="2.3" fill="#000"/>
<circle cx="627.8" cy="705.6" r="2.3" fill="#000"/>
<circle cx="627.8" cy="714" r="2.3" fill="#000"/>
<circle cx="623.5" cy="726" r="2.3" fill="#000"/>
<circle cx="632" cy="726" r="2.3" fill="#000"/>
<circle cx="627.8" cy="725" r="2.3" fill="#000"/>
<line x1="648.9" y1="694.5" x2="648.9" y2="695.1" stroke="#ff2a22" stroke-width="2.4" stroke-linecap="butt"/>
<line x1="648.9" y1="706.6" x2="648.9" y2="715.0" stroke="#ff2a22" stroke-width="2.4" stroke-linecap="butt"/>
<line x1="644.5" y1="694.5" x2="653.3" y2="694.5" stroke="#ff2a22" stroke-width="2.4" stroke-linecap="butt"/>
<line x1="644.5" y1="715.0" x2="653.3" y2="715.0" stroke="#ff2a22" stroke-width="2.4" stroke-linecap="butt"/>
<rect x="643.15" y="695.1" width="11.5" height="11.5" fill="#ffbab0" stroke="#ff2a22" stroke-width="2.4"/>
<line x1="643.15" y1="702.5" x2="654.65" y2="702.5" stroke="#ff2a22" stroke-width="2.4" stroke-linecap="butt"/>
<circle cx="644.5" cy="695.3" r="2.3" fill="#ff2a22"/>
<circle cx="653.2" cy="696" r="2.3" fill="#ff2a22"/>
<circle cx="648.9" cy="698" r="2.3" fill="#ff2a22"/>
<circle cx="653" cy="702.5" r="2.3" fill="#ff2a22"/>
<circle cx="644.6" cy="705" r="2.3" fill="#ff2a22"/>
<circle cx="648.9" cy="705.5" r="2.3" fill="#ff2a22"/>
<circle cx="648.9" cy="715" r="2.3" fill="#ff2a22"/>
<path d="M627.95 683.3 V632.95 H649.15 V672.9" fill="none" stroke="#000" stroke-width="1.9"/>
<text x="638.6" y="630.2" class="st">*</text>
</g>
</svg>
</body>
</html>
